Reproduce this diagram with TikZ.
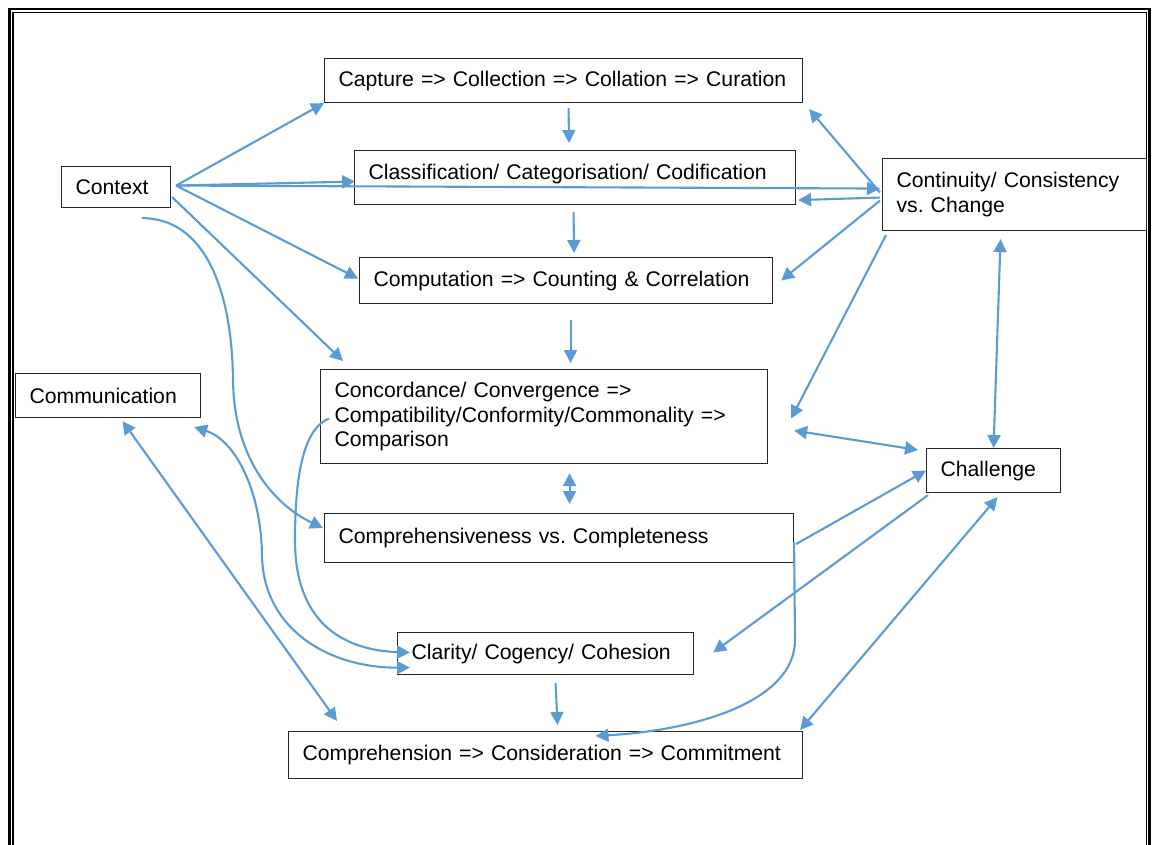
\documentclass[tikz,border=0pt]{standalone}
\usepackage{fontspec}
\setmainfont{Liberation Sans}
\usetikzlibrary{arrows.meta,calc}
\definecolor{linkblue}{RGB}{91,155,213}

\tikzset{
	box/.style={draw=black!85, line width=1.1pt, anchor=north west, align=left,
		inner xsep=14pt, inner ysep=0pt, font=\fontsize{21.2}{24.3}\selectfont\frenchspacing},
	link/.style={draw=linkblue, line width=2.1pt, -{Triangle[length=13pt,width=13pt]}},
	both/.style={link, {Triangle[length=13pt,width=13pt]}-{Triangle[length=13pt,width=13pt]}}
}

\begin{document}
\begin{tikzpicture}[x=1pt,y=-1pt]
	\useasboundingbox (0,0) rectangle (1152,844);
	% the double frame
	\draw[line width=2.6pt] (9.5,860) -- (9.5,9) -- (1149.5,9) -- (1149.5,860);
	\draw[line width=1.3pt] (13,860) -- (13,12.5) -- (1146.7,12.5) -- (1146.7,860);
	
	% We will draw the boxes here
	\node[box, minimum width=478pt, minimum height=44pt, text width=450pt] (capt) at (324,58)
		{Capture => Collection => Collation => Curation};
	\node[box, minimum width=109pt, minimum height=41pt, text width=81pt] (ctx) at (61,166)
		{Context};
	\node[box, minimum width=441pt, minimum height=54pt, text width=413pt, text depth=11.5pt] (clas) at (354,150)
		{Classification/ Categorisation/ Codification};
	\node[box, minimum width=264pt, minimum height=72pt, text width=236pt] (cont) at (882,158)
		{Continuity/ Consistency\\vs. Change};
	\node[box, minimum width=413pt, minimum height=46pt, text width=385pt] (comp) at (359,257)
		{Computation => Counting \& Correlation};
	\node[box, minimum width=447pt, minimum height=94pt, text width=419pt] (conc) at (320,369)
		{Concordance/ Convergence =>\\Compatibility/Conformity/Commonality =>\\Comparison};
	\node[box, minimum width=185pt, minimum height=44pt, text width=157pt] (cmm) at (15,373)
		{Communication};
	\node[box, minimum width=134pt, minimum height=44pt, text width=106pt] (chal) at (926,448)
		{Challenge};
	\node[box, minimum width=469pt, minimum height=49pt, text width=441pt] (cmpl) at (324,513)
		{Comprehensiveness vs. Completeness};
	\node[box, minimum width=296pt, minimum height=42pt, text width=268pt] (clar) at (397,632)
		{Clarity/ Cogency/ Cohesion};
	\node[box, minimum width=514pt, minimum height=47pt, text width=486pt] (cmph) at (288,731)
		{Comprehension => Consideration => Commitment};
	
	% arrows out of Context
	\coordinate (ctxo) at ($(ctx.east)+(5,-1.5)$);
	\draw[link] (ctxo) -- (capt.south west);
	\draw[link] (ctxo) -- ($(clas.west)+(1,4)$);
	\draw[link] (ctxo) -- ($(cont.west)+(-2,-6)$);
	\draw[link] (ctxo) -- ($(comp.west)+(-1,-2)$);
	\draw[link] ($(ctx.east)+(1,10)$) -- ($(conc.north west)+(23,-8)$);
	\draw[link] ($(ctx.south)+(25.5,10)$) .. controls (205,218) and (232,290) .. (233,380)
		.. controls (234,460) and (275,505) .. ($(cmpl.west)+(-1,-10)$);
	
	% arrows out of Continuity
	\draw[link] ($(cont.west)+(-2,3)$) -- ($(clas.south east)+(2,-5)$);
	\draw[link] ($(cont.west)+(-2,-2)$) -- ($(capt.south east)+(6,6)$);
	\draw[link] ($(cont.west)+(-2,6)$) -- ($(comp.east)+(8,0)$);
	\draw[link] ($(cont.south west)+(4,4)$) -- ($(conc.east)+(23,2)$);
	\draw[both] ($(cont.south)+(-14,8)$) -- (chal.north);
	
	% arrows round Challenge
	\draw[both] ($(conc.east)+(26,14)$) -- ($(chal.north west)+(-8,2)$);
	\draw[link] ($(cmpl.east)+(2,6)$) -- (chal.west);
	\draw[link] ($(chal.south west)+(2,2)$) -- ($(clar.east)+(19,-1)$);
	\draw[both] ($(cmph.north east)+(-3,-1)$) -- ($(chal.south)+(4,4)$);
	
	% the middle column
	\draw[link] ($(capt.south)+(5,5)$) -- ($(clas.north)+(-6,-7)$);
	\draw[link] ($(clas.south)+(-1.5,7)$) -- ($(comp.north)+(8,-4)$);
	\draw[link] ($(comp.south)+(4.5,16)$) -- ($(conc.north)+(26.5,-6)$);
	\draw[both] ($(conc.south)+(25.5,9)$) -- ($(cmpl.north)+(10.5,-9)$);
	\draw[link] ($(clar.south)+(10,8)$) -- ($(cmph.north)+(12,-6)$);
	
	% left side
	\draw[both] ($(cmm.south)+(14.5,3)$) -- ($(cmph.north west)+(49,-10)$);
	\draw[link] ($(conc.west)+(9,2)$) .. controls (305,428) and (295,470) .. (295,540)
		.. controls (295,620) and (340,650) .. ($(clar.west)+(13,-1)$);
	\draw[both] ($(cmm.south east)+(-7,9)$) .. controls (235,440) and (261,490) .. (262,555)
		.. controls (263,630) and (330,668) .. ($(clar.west)+(13,14)$);
	
	% right side down to Comprehension
	\draw[link] ($(cmpl.east)+(0,4)$) -- (795,640)
		.. controls (795,700) and (700,730) .. ($(cmph.north)+(50,5)$);
\end{tikzpicture}
\end{document}
